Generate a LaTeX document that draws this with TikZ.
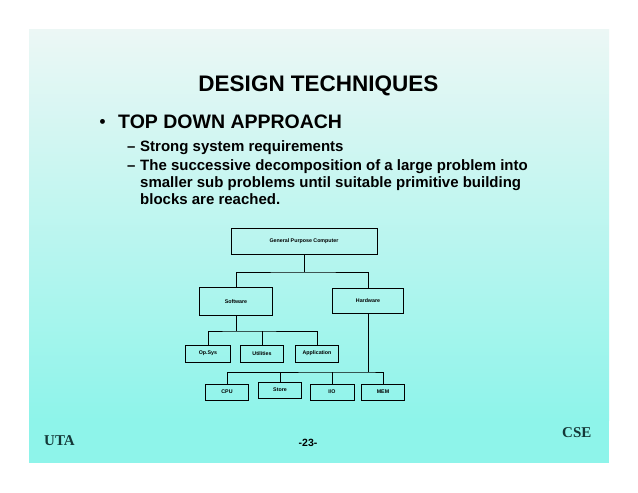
\documentclass[tikz,border=0pt]{standalone}
\usepackage{fontspec}
\setsansfont{Liberation Sans}
\newfontfamily\footfont{Liberation Serif}
\usepackage{xcolor}
\usetikzlibrary{calc}

\definecolor{slidetop}{HTML}{ECF7F5}
\definecolor{slidebot}{HTML}{8EF4EA}
\definecolor{footcol}{HTML}{143838}

\tikzset{
  treebox/.style={draw, line width=0.9pt, inner sep=0pt, font=\sffamily\bfseries\fontsize{5.3}{6}\selectfont},
  treeline/.style={line width=0.9pt},
  slidetext/.style={inner sep=0pt, anchor=base west, font=\sffamily\bfseries\fontsize{15}{17}\selectfont}
}

\begin{document}
\begin{tikzpicture}[x=1pt, y=-1pt]
    \fill[white] (0,0) rectangle (638,493);
    \shade[top color=slidetop, bottom color=slidebot] (29,29) rectangle (609,420);
    \fill[slidebot] (29,420) rectangle (609,463);

    \node[inner sep=0pt, anchor=base, font=\sffamily\bfseries\fontsize{22.5}{26}\selectfont] (title) at (318.5,91) {DESIGN TECHNIQUES};
    \node[inner sep=0pt, anchor=base, font=\sffamily\bfseries\fontsize{17}{22}\selectfont] (bul) at (102.5,127) {\textbullet};
    \node[inner sep=0pt, anchor=base west, font=\sffamily\bfseries\fontsize{19.5}{22}\selectfont] (topdown) at (118,128) {TOP DOWN APPROACH};
    \node[slidetext] (dash1) at (127,151) {--};
    \node[slidetext] (req) at (140,151) {Strong system requirements};
    \node[slidetext] (dash2) at (127,170) {--};
    \node[slidetext, anchor=north west, align=left] (decomp) at (140,159) {The successive decomposition of a large problem into\\smaller sub problems until suitable primitive building\\blocks are reached.};

    \node[treebox, minimum width=146pt, minimum height=26pt] (gpc) at (304,241) {General Purpose Computer};
    \node[treebox, minimum width=73pt, minimum height=28pt] (sw) at (236,301.5) {Software};
    \node[treebox, minimum width=71pt, minimum height=25pt] (hw) at (368,300.5) {Hardware};
    \node[treebox, minimum width=45pt, minimum height=17pt] (opsys) at (208,353.5) {Op.Sys};
    \node[treebox, minimum width=43pt, minimum height=17pt] (util) at (262,353.5) {Utilities};
    \node[treebox, minimum width=43pt, minimum height=17pt] (app) at (317,353.5) {Application};
    \node[treebox, minimum width=43pt, minimum height=16pt] (cpu) at (227,392) {CPU};
    \node[treebox, minimum width=43pt, minimum height=16pt] (store) at (280,390) {Store};
    \node[treebox, minimum width=44pt, minimum height=16pt] (io) at (332,392) {I/O};
    \node[treebox, minimum width=43pt, minimum height=16pt] (mem) at (383,392) {MEM};

    \coordinate (topbus) at (304,272);
    \coordinate (swbus) at (236,331);
    \coordinate (hwbus) at (368,372);

    \draw[treeline] (gpc.south) -- (topbus);
    \draw[treeline] (sw.north) |- (topbus) -| (hw.north);
    \draw[treeline] (sw.south) -- (swbus);
    \draw[treeline] (opsys.north) |- (swbus) -| (app.north);
    \draw[treeline] (util.north) -- (util.north |- swbus);
    \draw[treeline] (hw.south) -- (hwbus);
    \draw[treeline] (cpu.north) |- (hwbus) -| (mem.north);
    \draw[treeline] (store.north) -- (store.north |- hwbus);
    \draw[treeline] (io.north) -- (io.north |- hwbus);

    \node[inner sep=0pt, anchor=base west, text=footcol, font=\footfont\bfseries\fontsize{15}{17}\selectfont] (uta) at (44,445) {UTA};
    \node[inner sep=0pt, anchor=base, font=\sffamily\bfseries\fontsize{10.5}{12}\selectfont] (page) at (308,446) {-23-};
    \node[inner sep=0pt, anchor=base west, text=footcol, font=\footfont\bfseries\fontsize{15}{17}\selectfont] (cse) at (562,437) {CSE};
\end{tikzpicture}
\end{document}
